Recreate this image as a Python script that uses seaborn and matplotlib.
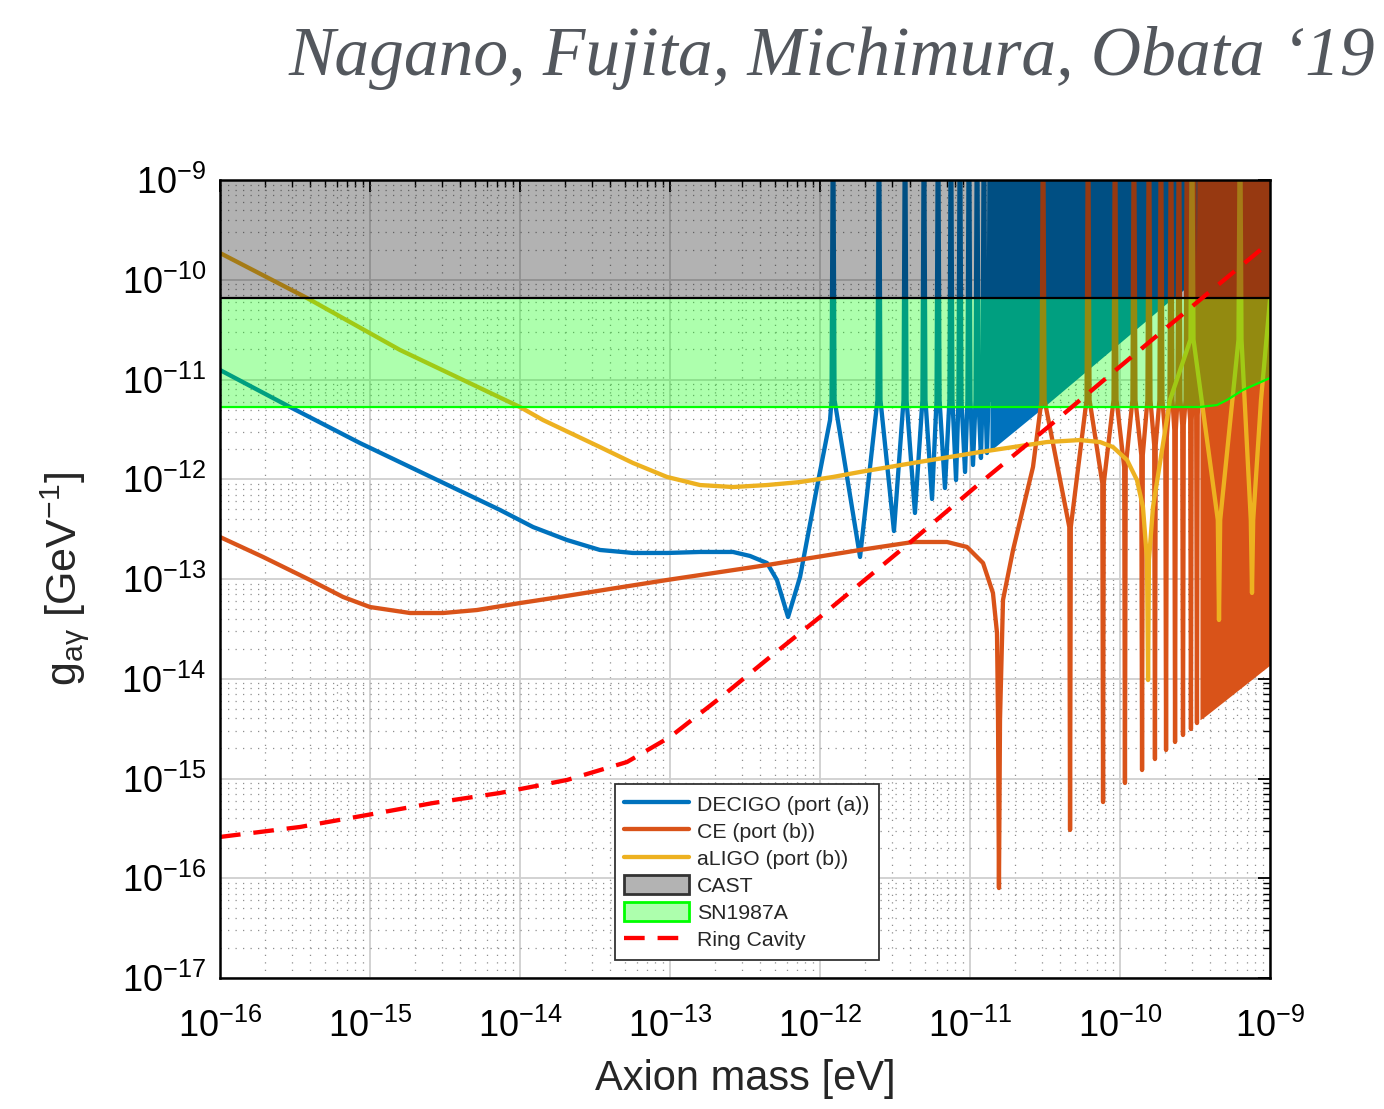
import numpy as np
import pandas as pd
import matplotlib
matplotlib.use("Agg")
import matplotlib.pyplot as plt
import seaborn as sns
from matplotlib.lines import Line2D
from matplotlib.patches import Patch
from matplotlib.ticker import LogLocator, NullFormatter

# ---------------- data (log10 of axion mass [eV] and coupling [GeV^-1]) ----------------
# DECIGO (port (a))
decigo_main_m = [-16.0, -15.533, -15.067, -14.58, -14.133, -13.913, -13.687, -13.467, -13.247,
                 -13.02, -12.8, -12.58, -12.467, -12.353, -12.287, -12.213, -12.133, -12.02, -11.933]
decigo_main_g = [-10.905, -11.276, -11.637, -11.987, -12.308, -12.479, -12.609, -12.709, -12.739,
                 -12.739, -12.729, -12.729, -12.769, -12.84, -13.01, -13.381, -12.98, -12.078, -11.406]
decigo_peak_m = [-11.913, -11.607, -11.433, -11.307, -11.213, -11.127, -11.067, -11.007,
                 -10.953, -10.907, -10.867]
decigo_dip_m = [-11.733, -11.507, -11.367, -11.253, -11.167, -11.093, -11.033, -10.98, -10.927, -10.887]
decigo_dip_g = [-12.779, -12.519, -12.338, -12.198, -12.088, -12.008, -11.927, -11.857, -11.787, -11.737]
decigo_floor_m = [-10.867, -10.533, -9.687, -9.0]
decigo_floor_g = [-11.717, -11.306, -10.233, -9.411]

# CE (port (b))
ce_main_m = [-16.0, -15.713, -15.4, -15.18, -15.0, -14.733, -14.513, -14.287, -14.0, -13.733,
             -13.4, -13.02, -12.353, -11.733, -11.38, -11.153, -11.02, -10.913, -10.847, -10.82,
             -10.813, -10.807, -10.8, -10.78, -10.713, -10.58]
ce_main_g = [-12.579, -12.779, -13.01, -13.18, -13.281, -13.341, -13.341, -13.311, -13.241, -13.18,
             -13.1, -13.01, -12.86, -12.709, -12.629, -12.629, -12.679, -12.84, -13.14, -13.541,
             -14.414, -16.098, -14.414, -13.21, -12.709, -11.877]
ce_peak_m = [-10.513, -10.213, -10.033, -9.907, -9.807, -9.727, -9.66, -9.607, -9.553, -9.507, -9.467]
ce_dip_m = [-10.333, -10.113, -9.967, -9.853, -9.767, -9.693, -9.633, -9.58, -9.527, -9.487]
ce_dip_g = [-15.516, -15.236, -15.045, -14.915, -14.805, -14.714, -14.634, -14.564, -14.504, -14.444]
ce_knee_g = [-12.479, -12.038, -11.877, -11.757, -11.657, -11.576, -11.506, -11.456, -11.406, -11.356]
ce_floor_m = [-9.467, -9.447, -9.0]
ce_floor_g = [-14.41, -14.393, -13.862]

# aLIGO (port (b))
ligo_main_m = [-16.0, -15.42, -14.8, -14.0, -13.847, -13.467, -13.247, -13.02, -12.8, -12.58,
               -12.353, -12.133, -11.913, -11.733, -11.38, -10.933, -10.487, -10.267, -10.133,
               -10.047, -9.953, -9.887, -9.847, -9.82, -9.813, -9.807, -9.78, -9.667]
ligo_main_g = [-9.732, -10.183, -10.704, -11.276, -11.406, -11.677, -11.837, -11.977, -12.058,
               -12.078, -12.058, -12.028, -11.977, -11.927, -11.837, -11.727, -11.627, -11.607,
               -11.627, -11.677, -11.807, -12.008, -12.278, -12.81, -14.013, -12.81, -12.278, -11.206]
ligo_peak_m = [-9.52, -9.2]
ligo_dip_m = [-9.34, -9.12]
ligo_dip_g = [-13.411, -13.14]
ligo_knee_g = [-12.408, -12.408]
ligo_tail_m = [-9.06, -9.0]
ligo_tail_g = [-11.206, -10.2]

# Ring cavity
ring_m = [-16.0, -15.467, -15.02, -14.58, -14.133, -13.687, -13.287, -13.0, -12.667, -12.333,
          -12.0, -11.38, -10.933, -10.487, -10.02, -9.42, -9.0]
ring_g = [-15.586, -15.486, -15.366, -15.246, -15.145, -15.015, -14.835, -14.584, -14.193,
          -13.782, -13.381, -12.609, -12.038, -11.486, -10.895, -10.143, -9.622]

# CAST and SN1987A bounds
cast_g = -10.18
sn_m = [-16.0, -9.467, -9.353, -9.287, -9.18, -9.0]
sn_g = [-11.276, -11.276, -11.256, -11.206, -11.105, -10.985]

labels = ["DECIGO (port (a))", "CE (port (b))", "aLIGO (port (b))", "CAST", "SN1987A", "Ring Cavity"]

C_BLUE = (0.0, 0.447, 0.741)
C_ORANGE = (0.85, 0.325, 0.098)
C_YELLOW = (0.929, 0.694, 0.125)
TOP = -8.0
LW = 3.1
RING_DASH = (0, (4.8, 3.0))


def build(main_m, main_g, peak_m, dip_m, dip_g, knee_g, knee_dm, shoulder_g, shoulder_dm):
    m = list(main_m)
    g = list(main_g)
    for i, pk in enumerate(peak_m):
        m += [pk - shoulder_dm, pk, pk + shoulder_dm]
        g += [shoulder_g, TOP, shoulder_g]
        if i < len(dip_m):
            if knee_g is None:
                m.append(dip_m[i])
                g.append(dip_g[i])
            else:
                m += [dip_m[i] - knee_dm, dip_m[i], dip_m[i] + knee_dm]
                g += [knee_g[i], dip_g[i], knee_g[i]]
    return m, g


def frame(m, g):
    return pd.DataFrame({"m": 10.0 ** np.asarray(m), "g": 10.0 ** np.asarray(g)})


sns.set_style("white")
plt.rcParams["font.family"] = ["Liberation Sans", "DejaVu Sans"]
plt.rcParams["mathtext.fontset"] = "custom"
plt.rcParams["mathtext.rm"] = "Liberation Sans"
plt.rcParams["mathtext.it"] = "Liberation Sans:italic"

fig = plt.figure(figsize=(13.84, 11.09), dpi=100)
ax = fig.add_axes([220 / 1384, 131 / 1109, 1050 / 1384, 798 / 1109])
ax.set_xscale("log")
ax.set_yscale("log")

# DECIGO
dm, dg = build(decigo_main_m, decigo_main_g, decigo_peak_m, decigo_dip_m, decigo_dip_g,
               None, 0.0, -11.206, 0.01)
sns.lineplot(data=frame(dm, dg), x="m", y="g", sort=False, estimator=None,
             color=C_BLUE, lw=LW, ax=ax, zorder=2.0)
ax.fill_between(10.0 ** np.array(decigo_floor_m), 10.0 ** np.array(decigo_floor_g), 1e-8,
                color=C_BLUE, lw=0, zorder=2.0)

# CE
cm, cg = build(ce_main_m, ce_main_g, ce_peak_m, ce_dip_m, ce_dip_g, ce_knee_g, 0.005, -11.206, 0.01)
sns.lineplot(data=frame(cm, cg), x="m", y="g", sort=False, estimator=None,
             color=C_ORANGE, lw=LW, ax=ax, zorder=2.1)
ax.fill_between(10.0 ** np.array(ce_floor_m), 10.0 ** np.array(ce_floor_g), 1e-8,
                color=C_ORANGE, lw=0, zorder=2.1)

# aLIGO
lm, lg = build(ligo_main_m, ligo_main_g, ligo_peak_m, ligo_dip_m, ligo_dip_g, ligo_knee_g,
               0.008, -10.6, 0.01)
lm += ligo_tail_m
lg += ligo_tail_g
sns.lineplot(data=frame(lm, lg), x="m", y="g", sort=False, estimator=None,
             color=C_YELLOW, lw=LW, ax=ax, zorder=2.2)

# CAST & SN1987A
ax.fill_between([1e-16, 1e-9], 10.0 ** cast_g, 1e-9, color="k", alpha=0.3, lw=0, zorder=3.0)
ax.fill_between(10.0 ** np.array(sn_m), 10.0 ** np.array(sn_g), 10.0 ** cast_g,
                color=(0, 1, 0), alpha=0.32, lw=0, zorder=3.0)
ax.axhline(10.0 ** cast_g, color="k", lw=1.6, zorder=3.2)
sns.lineplot(data=frame(sn_m, sn_g), x="m", y="g", sort=False, estimator=None,
             color=(0, 1, 0), lw=1.6, ax=ax, zorder=3.2)

# Ring cavity
sns.lineplot(data=frame(ring_m, ring_g), x="m", y="g", sort=False, estimator=None,
             color="red", lw=LW, ax=ax, zorder=4)
ax.lines[-1].set_linestyle(RING_DASH)

ax.set_xlim(1e-16, 1e-9)
ax.set_ylim(1e-17, 1e-9)

for axis in (ax.xaxis, ax.yaxis):
    axis.set_major_locator(LogLocator(base=10, numticks=30))
    axis.set_minor_locator(LogLocator(base=10, subs=np.arange(2, 10), numticks=300))
    axis.set_minor_formatter(NullFormatter())

ax.set_axisbelow(True)
ax.grid(which="major", color="#cfcfcf", lw=1.3, ls="-")
ax.grid(which="minor", color="#8f8f8f", lw=0.9, ls=(0, (1, 5)))
ax.tick_params(which="both", direction="in", top=True, right=True, colors="k")
ax.tick_params(which="major", length=8.5, width=1.3, labelsize=26)
ax.tick_params(which="minor", length=5, width=1.0)
ax.tick_params(axis="x", which="major", pad=22)
ax.tick_params(axis="y", which="major", pad=10)
for sp in ax.spines.values():
    sp.set_linewidth(1.8)
    sp.set_color("k")
    sp.set_zorder(6)

ax.set_xlabel("Axion mass [eV]", fontsize=30)
ax.xaxis.set_label_coords(0.5, -0.102)
ax.set_ylabel(r"g$_{\mathregular{aγ}}$ [GeV$^{\mathregular{-1}}$]", fontsize=31)
ax.yaxis.set_label_coords(-0.123, 0.5)

handles = [
    Line2D([], [], color=C_BLUE, lw=LW),
    Line2D([], [], color=C_ORANGE, lw=LW),
    Line2D([], [], color=C_YELLOW, lw=LW),
    Patch(facecolor=(0.7, 0.7, 0.7), edgecolor="#333333", lw=2.0),
    Patch(facecolor=(0.68, 1.0, 0.68), edgecolor=(0, 1, 0), lw=2.0),
    Line2D([], [], color="red", lw=LW, ls=RING_DASH),
]
leg = ax.legend(handles, labels, loc="lower left", bbox_to_anchor=(0.376, 0.0226),
                fontsize=15.3, frameon=True, fancybox=False, framealpha=1, edgecolor="#333333",
                borderpad=0.45, handlelength=3.05, handletextpad=0.35, labelspacing=0.3,
                handleheight=1.0, borderaxespad=0)
leg.get_frame().set_linewidth(1.3)
leg.set_zorder(10)

fig.text(1375 / 1384, 1 - 75 / 1109, "Nagano, Fujita, Michimura, Obata \u201819",
         ha="right", va="baseline", fontsize=50, style="italic",
         family=["Liberation Serif", "DejaVu Serif"], color="#53575d")

fig.savefig("out.png", dpi=100)
